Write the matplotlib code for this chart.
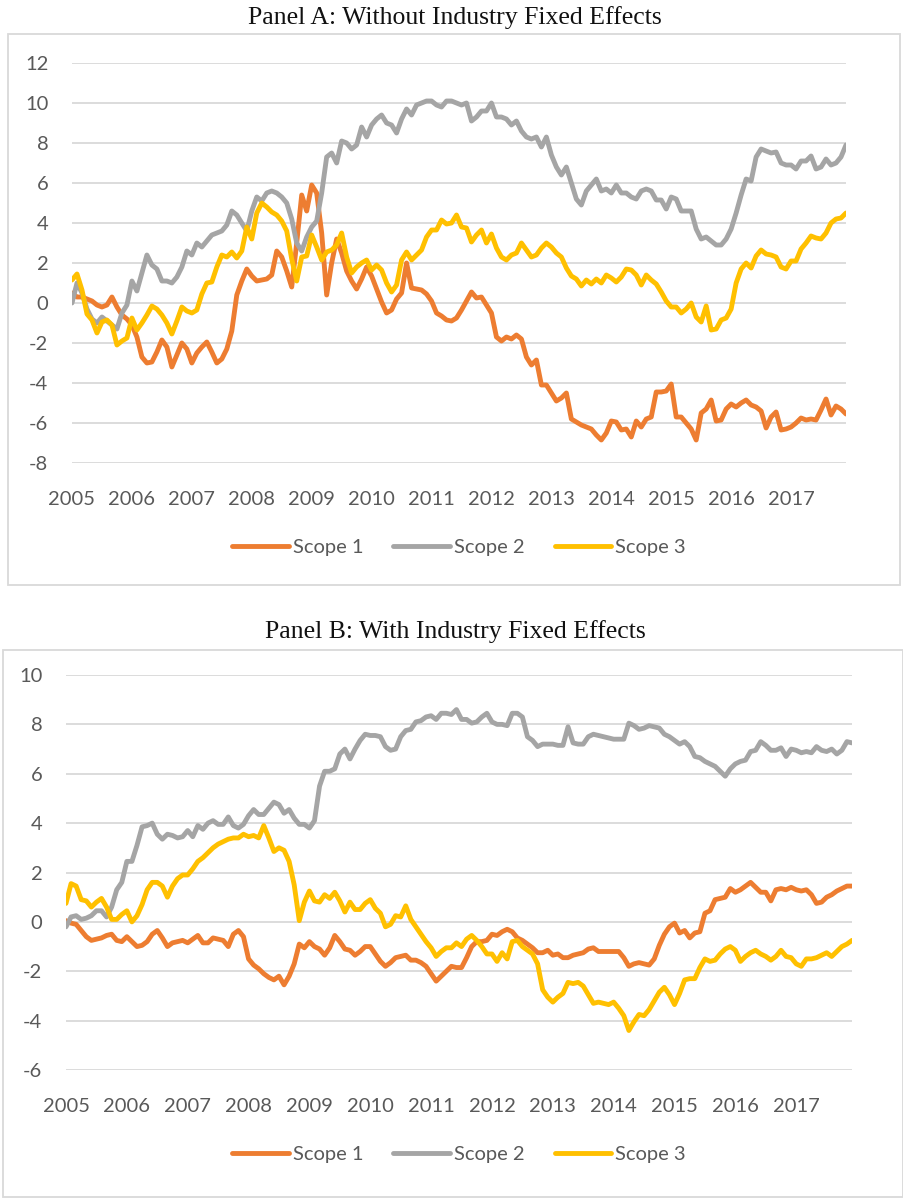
import numpy as np
import matplotlib
matplotlib.use("Agg")
import matplotlib.pyplot as plt
from matplotlib.patches import Rectangle

plt.rcParams['axes.unicode_minus'] = False

# monthly series, Jan 2005 .. Dec 2017 (one row per year)
a_scope1 = [0.5, 0.3, 0.3, 0.2, 0.1, -0.1, -0.2, -0.1, 0.3, -0.2, -0.6, -0.8,
            -1.1, -1.7, -2.7, -3.0, -2.95, -2.45, -1.85, -2.2, -3.2, -2.6, -2.0, -2.3,
            -3.0, -2.5, -2.2, -1.95, -2.45, -3.0, -2.8, -2.3, -1.4, 0.4, 1.1, 1.7,
            1.35, 1.1, 1.15, 1.2, 1.4, 2.6, 2.3, 1.6, 0.8, 3.0, 5.4, 4.6,
            5.9, 5.5, 3.5, 0.4, 2.0, 3.2, 2.5, 1.6, 1.1, 0.7, 1.2, 1.8,
            1.35, 0.7, 0.05, -0.5, -0.35, 0.2, 0.5, 2.0, 0.75, 0.7, 0.65, 0.45,
            0.1, -0.5, -0.65, -0.85, -0.9, -0.75, -0.35, 0.1, 0.55, 0.25, 0.3, -0.1,
            -0.5, -1.7, -1.9, -1.7, -1.8, -1.6, -1.8, -2.7, -3.1, -2.85, -4.1, -4.1,
            -4.5, -4.9, -4.75, -4.5, -5.8, -5.95, -6.1, -6.2, -6.3, -6.6, -6.85, -6.5,
            -5.9, -5.95, -6.35, -6.3, -6.7, -5.9, -6.2, -5.8, -5.7, -4.45, -4.45, -4.4,
            -4.05, -5.7, -5.7, -6.0, -6.3, -6.85, -5.5, -5.3, -4.85, -5.9, -5.85, -5.3,
            -5.05, -5.2, -5.0, -4.85, -5.1, -5.2, -5.4, -6.25, -5.7, -5.45, -6.35, -6.3,
            -6.2, -6.0, -5.75, -5.85, -5.8, -5.85, -5.35, -4.8, -5.6, -5.15, -5.3, -5.55]
a_scope2 = [0.0, 1.0, 0.5, -0.3, -0.8, -1.0, -0.7, -0.9, -1.1, -1.3, -0.5, -0.1,
            1.1, 0.6, 1.5, 2.4, 1.9, 1.7, 1.1, 1.1, 1.0, 1.3, 1.8, 2.6,
            2.4, 3.0, 2.8, 3.1, 3.4, 3.5, 3.6, 3.9, 4.6, 4.4, 4.0, 3.6,
            4.6, 5.3, 5.1, 5.5, 5.6, 5.5, 5.3, 5.0, 4.2, 3.0, 2.6, 3.3,
            3.8, 4.1, 5.5, 7.3, 7.5, 7.0, 8.1, 8.0, 7.7, 7.9, 8.8, 8.3,
            8.9, 9.2, 9.4, 9.0, 8.9, 8.5, 9.2, 9.7, 9.4, 9.9, 10.0, 10.1,
            10.1, 9.9, 9.8, 10.1, 10.1, 10.0, 9.9, 10.0, 9.1, 9.3, 9.6, 9.6,
            10.0, 9.3, 9.3, 9.2, 8.9, 9.1, 8.6, 8.3, 8.2, 8.3, 7.8, 8.3,
            7.4, 6.8, 6.4, 6.8, 6.0, 5.2, 4.9, 5.6, 5.9, 6.2, 5.6, 5.7,
            5.5, 5.9, 5.5, 5.5, 5.3, 5.2, 5.6, 5.7, 5.6, 5.15, 5.15, 4.7,
            5.3, 5.2, 4.6, 4.6, 4.6, 3.7, 3.2, 3.3, 3.1, 2.9, 2.9, 3.2,
            3.7, 4.5, 5.4, 6.2, 6.1, 7.3, 7.7, 7.6, 7.5, 7.55, 7.0, 6.9,
            6.9, 6.7, 7.1, 7.1, 7.35, 6.7, 6.8, 7.2, 6.9, 7.0, 7.3, 7.9]
a_scope3 = [1.15, 1.45, 0.65, -0.55, -0.85, -1.5, -0.95, -0.85, -1.1, -2.1, -1.9, -1.75,
            -0.75, -1.35, -1.0, -0.6, -0.15, -0.3, -0.6, -1.0, -1.55, -0.9, -0.2, -0.4,
            -0.5, -0.35, 0.45, 1.0, 1.05, 1.8, 2.4, 2.3, 2.55, 2.25, 2.6, 3.8,
            3.2, 4.5, 5.0, 4.8, 4.55, 4.4, 4.1, 3.6, 2.2, 1.1, 2.3, 2.35,
            3.4, 2.8, 2.15, 2.55, 2.65, 2.9, 3.5, 2.3, 1.5, 1.8, 2.0, 2.15,
            1.65, 1.9, 1.65, 1.0, 0.55, 0.9, 2.15, 2.55, 2.15, 2.4, 2.65, 3.3,
            3.65, 3.65, 4.15, 3.95, 4.0, 4.4, 3.8, 3.75, 3.05, 3.4, 3.65, 3.0,
            3.45, 2.75, 2.3, 2.15, 2.4, 2.5, 3.0, 2.65, 2.3, 2.4, 2.75, 3.0,
            2.8, 2.5, 2.3, 1.75, 1.35, 1.2, 0.85, 1.15, 0.95, 1.2, 1.0, 1.4,
            1.25, 1.05, 1.3, 1.7, 1.65, 1.4, 0.9, 1.4, 1.15, 0.95, 0.55, 0.1,
            -0.2, -0.2, -0.5, -0.3, 0.0, -0.7, -0.95, -0.15, -1.35, -1.3, -0.85, -0.75,
            -0.3, 1.0, 1.7, 2.0, 1.75, 2.35, 2.65, 2.45, 2.4, 2.3, 1.8, 1.7,
            2.1, 2.1, 2.7, 3.0, 3.35, 3.25, 3.2, 3.5, 4.0, 4.2, 4.25, 4.5]

b_scope1 = [0.05, -0.05, -0.1, -0.35, -0.6, -0.75, -0.7, -0.65, -0.55, -0.5, -0.75, -0.8,
            -0.6, -0.8, -1.0, -0.95, -0.8, -0.5, -0.35, -0.65, -1.0, -0.85, -0.8, -0.75,
            -0.85, -0.7, -0.55, -0.85, -0.85, -0.65, -0.7, -0.75, -1.0, -0.5, -0.35, -0.6,
            -1.5, -1.75, -1.9, -2.1, -2.25, -2.35, -2.2, -2.55, -2.2, -1.7, -0.9, -1.05,
            -0.8, -1.0, -1.1, -1.35, -1.05, -0.55, -0.8, -1.1, -1.15, -1.35, -1.2, -1.0,
            -1.0, -1.3, -1.6, -1.8, -1.65, -1.45, -1.4, -1.35, -1.55, -1.55, -1.65, -1.8,
            -2.1, -2.4, -2.2, -2.0, -1.8, -1.85, -1.85, -1.45, -1.0, -0.8, -0.8, -0.75,
            -0.5, -0.55, -0.4, -0.3, -0.4, -0.65, -0.75, -0.9, -1.05, -1.25, -1.25, -1.15,
            -1.35, -1.3, -1.45, -1.45, -1.35, -1.3, -1.25, -1.1, -1.05, -1.2, -1.2, -1.2,
            -1.2, -1.2, -1.45, -1.8, -1.7, -1.65, -1.7, -1.75, -1.5, -0.95, -0.5, -0.2,
            -0.05, -0.45, -0.35, -0.65, -0.45, -0.4, 0.35, 0.45, 0.9, 0.95, 1.0, 1.35,
            1.2, 1.3, 1.45, 1.6, 1.4, 1.2, 1.2, 0.85, 1.3, 1.35, 1.3, 1.4,
            1.3, 1.25, 1.3, 1.1, 0.75, 0.8, 1.0, 1.1, 1.25, 1.35, 1.45, 1.45]
b_scope2 = [-0.2, 0.2, 0.25, 0.1, 0.15, 0.25, 0.45, 0.45, 0.2, 0.6, 1.3, 1.6,
            2.45, 2.45, 3.1, 3.85, 3.9, 4.0, 3.55, 3.35, 3.55, 3.5, 3.4, 3.45,
            3.7, 3.45, 3.9, 3.75, 4.0, 4.1, 3.95, 3.95, 4.25, 3.9, 3.8, 3.95,
            4.3, 4.55, 4.35, 4.35, 4.6, 4.85, 4.75, 4.4, 4.55, 4.2, 3.95, 3.95,
            3.8, 4.1, 5.5, 6.1, 6.1, 6.2, 6.8, 7.0, 6.6, 7.0, 7.35, 7.6,
            7.55, 7.55, 7.5, 7.1, 6.95, 7.0, 7.5, 7.75, 7.8, 8.1, 8.15, 8.3,
            8.35, 8.2, 8.45, 8.45, 8.4, 8.6, 8.2, 8.2, 8.05, 8.1, 8.3, 8.45,
            8.1, 8.0, 8.0, 7.95, 8.45, 8.45, 8.3, 7.5, 7.35, 7.1, 7.2, 7.2,
            7.2, 7.15, 7.15, 7.9, 7.25, 7.2, 7.2, 7.5, 7.6, 7.55, 7.5, 7.45,
            7.4, 7.4, 7.4, 8.05, 7.95, 7.8, 7.85, 7.95, 7.9, 7.85, 7.6, 7.5,
            7.35, 7.2, 7.3, 7.1, 6.7, 6.65, 6.5, 6.4, 6.3, 6.1, 5.9, 6.2,
            6.4, 6.5, 6.55, 6.9, 6.95, 7.3, 7.15, 6.95, 6.95, 7.05, 6.7, 7.0,
            6.95, 6.85, 6.9, 6.85, 7.1, 6.95, 6.9, 7.0, 6.8, 6.95, 7.3, 7.25]
b_scope3 = [0.75, 1.55, 1.45, 0.9, 0.85, 0.6, 0.8, 0.95, 0.6, 0.1, 0.1, 0.3,
            0.45, 0.0, 0.25, 0.7, 1.3, 1.6, 1.6, 1.45, 1.0, 1.45, 1.75, 1.9,
            1.9, 2.15, 2.45, 2.6, 2.8, 3.0, 3.15, 3.25, 3.35, 3.4, 3.4, 3.55,
            3.45, 3.5, 3.4, 3.9, 3.4, 2.85, 3.0, 2.9, 2.45, 1.5, 0.05, 0.8,
            1.25, 0.85, 0.8, 1.1, 0.95, 1.2, 0.85, 0.4, 0.8, 0.5, 0.5, 0.75,
            0.9, 0.55, 0.35, -0.2, -0.1, 0.25, 0.2, 0.65, 0.1, -0.2, -0.5, -0.8,
            -1.05, -1.4, -1.2, -1.05, -1.05, -0.85, -1.0, -0.7, -0.55, -0.75, -1.0, -1.3,
            -1.3, -1.6, -1.25, -1.5, -0.8, -0.75, -1.0, -1.15, -1.3, -1.7, -2.75, -3.05,
            -3.25, -3.05, -2.9, -2.45, -2.5, -2.45, -2.6, -2.95, -3.3, -3.25, -3.3, -3.35,
            -3.25, -3.5, -3.8, -4.4, -4.05, -3.75, -3.8, -3.55, -3.2, -2.85, -2.65, -2.95,
            -3.35, -2.9, -2.35, -2.3, -2.3, -1.85, -1.5, -1.6, -1.55, -1.3, -1.1, -1.0,
            -1.15, -1.6, -1.4, -1.25, -1.15, -1.3, -1.4, -1.55, -1.4, -1.15, -1.4, -1.45,
            -1.7, -1.8, -1.5, -1.5, -1.45, -1.35, -1.25, -1.4, -1.2, -1.0, -0.9, -0.75]

years = ['2005', '2006', '2007', '2008', '2009', '2010', '2011', '2012',
         '2013', '2014', '2015', '2016', '2017']
labels = ['Scope 1', 'Scope 2', 'Scope 3']
colors = ['#ED7D31', '#A5A5A5', '#FFC000']

W, H = 904, 1199
fig = plt.figure(figsize=(W / 100, H / 100), dpi=100)
txt = '#595959'
grid = '#D9D9D9'


def box(x0, y0, x1, y1):
    fig.patches.append(Rectangle((x0 / W, 1 - y1 / H), (x1 - x0) / W, (y1 - y0) / H,
                                 transform=fig.transFigure, fill=False,
                                 edgecolor=grid, lw=1.3))


def panel(rect, series, ylim, step, title, title_xy, legend_xy):
    left, top, right, bottom = rect
    ax = fig.add_axes([left / W, 1 - bottom / H, (right - left) / W, (bottom - top) / H])
    for s, c, lab in zip(series, colors, labels):
        ax.plot(np.arange(len(s)), s, color=c, lw=3.5, label=lab,
                solid_joinstyle='round', solid_capstyle='round')
    ax.set_xlim(0, 155)
    ax.set_ylim(*ylim)
    ax.set_yticks(np.arange(ylim[0], ylim[1] + 1, step))
    ax.set_xticks(np.arange(0, 156, 12))
    ax.set_xticklabels(years)
    ax.yaxis.grid(True, color=grid, lw=1.3)
    ax.set_axisbelow(True)
    for sp in ax.spines.values():
        sp.set_visible(False)
    ax.tick_params(length=0, labelsize=14.5, colors=txt)
    ax.tick_params(axis='x', pad=20)
    ax.tick_params(axis='y', pad=17)
    for t in ax.get_xticklabels() + ax.get_yticklabels():
        t.set_fontfamily('Lato')
    leg = ax.legend(loc='center', bbox_to_anchor=(legend_xy[0] / W, 1 - legend_xy[1] / H),
                    bbox_transform=fig.transFigure, ncol=3, frameon=False,
                    handlelength=2.8, handletextpad=0.2, columnspacing=1.5,
                    prop={'family': 'Lato', 'size': 14.5})
    for t in leg.get_texts():
        t.set_color(txt)
    fig.text(title_xy[0] / W, 1 - title_xy[1] / H, title, ha='center', va='center',
             fontsize=18.5, family='Liberation Serif', color='#111111')
    return ax


box(8, 34, 900, 585)
box(3, 650, 903, 1197)
panel((72, 63, 846, 463), [a_scope1, a_scope2, a_scope3], (-8, 12), 2,
      'Panel A: Without Industry Fixed Effects', (455, 18), (459, 547))
panel((66, 675, 852, 1070), [b_scope1, b_scope2, b_scope3], (-6, 10), 2,
      'Panel B: With Industry Fixed Effects', (455, 632), (459, 1154))

fig.savefig('out.png', dpi=100)
